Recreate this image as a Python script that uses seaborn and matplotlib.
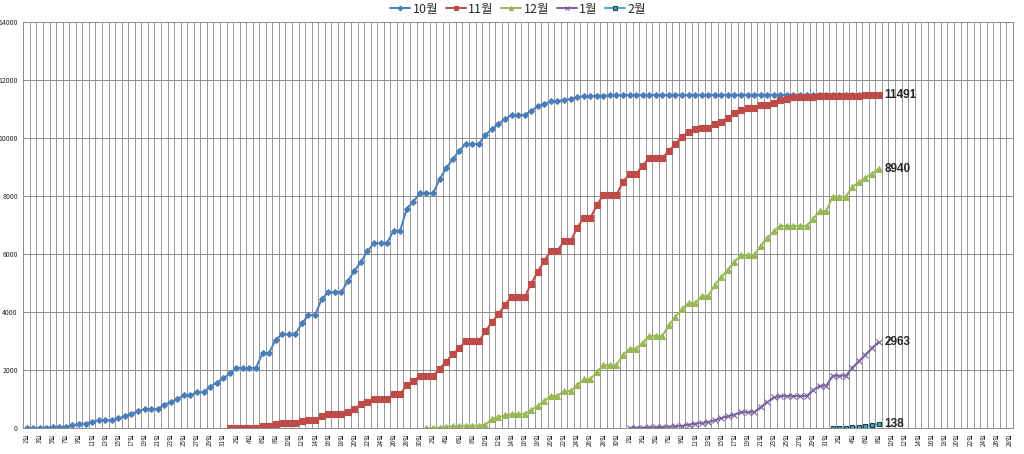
import matplotlib
matplotlib.use("Agg")
import matplotlib.pyplot as plt
import numpy as np
import pandas as pd
import seaborn as sns

# months shown on the category axis (Oct .. Feb)
month_names = ["10월", "11월", "12월", "1월", "2월"]
month_days = [31, 30, 31, 31, 28]

# cumulative counts, one value per day from the 1st of each series' month
oct_vals = [0, 0, 10, 10, 35, 35, 45, 90, 150, 150,
            215, 260, 260, 260, 330, 410, 490, 570, 650, 650,
            650, 800, 900, 995, 1130, 1130, 1235, 1235, 1420, 1565,
            1715, 1880, 2070, 2070, 2070, 2070, 2585, 2585, 3050, 3230,
            3230, 3230, 3605, 3890, 3890, 4435, 4680, 4680, 4680, 5055,
            5420, 5720, 6100, 6375, 6375, 6375, 6810, 6810, 7560, 7810,
            8090, 8090, 8090, 8570, 8960, 9260, 9560, 9800, 9800, 9800,
            10110, 10305, 10490, 10650, 10790, 10790, 10790, 10940, 11090, 11180,
            11260, 11270, 11320, 11340, 11400, 11445, 11445, 11465, 11465, 11470,
            11475, 11475, 11480, 11480, 11480, 11482, 11482, 11484, 11484, 11485,
            11485, 11486, 11486, 11487, 11487, 11487, 11488, 11488, 11488, 11489,
            11489, 11489, 11489, 11490, 11490, 11490, 11490, 11490, 11490, 11490,
            11490, 11490, 11490, 11491, 11491, 11491, 11491, 11491, 11491, 11491, 11491]
nov_vals = [0, 0, 0, 0, 0, 60, 60, 150, 170, 170,
            170, 230, 290, 290, 400, 470, 470, 470, 565, 655,
            815, 895, 990, 990, 990, 1160, 1160, 1480, 1630, 1795,
            1795, 1795, 2045, 2290, 2535, 2755, 2985, 2985, 2985, 3335,
            3645, 3930, 4250, 4525, 4525, 4525, 4975, 5395, 5770, 6120,
            6120, 6440, 6440, 6900, 7245, 7245, 7680, 8045, 8045, 8045,
            8490, 8755, 8755, 9050, 9315, 9315, 9315, 9550, 9800, 10050,
            10200, 10300, 10350, 10350, 10500, 10550, 10700, 10850, 10950, 11050,
            11050, 11150, 11150, 11200, 11300, 11350, 11400, 11420, 11430, 11430,
            11440, 11440, 11440, 11450, 11450, 11460, 11460, 11470, 11480, 11491]
dec_vals = [0, 0, 10, 45, 57, 70, 80, 80, 80, 115,
            310, 380, 435, 480, 480, 480, 620, 770, 940, 1110,
            1110, 1275, 1275, 1480, 1675, 1675, 1940, 2165, 2165, 2165,
            2520, 2740, 2740, 2945, 3175, 3175, 3175, 3540, 3840, 4105,
            4310, 4310, 4550, 4550, 4930, 5205, 5465, 5730, 5960, 5960,
            5960, 6290, 6545, 6785, 6970, 6970, 6970, 6970, 6970, 7200,
            7485, 7485, 7980, 7980, 7980, 8310, 8480, 8630, 8770, 8940]
jan_vals = [0, 10, 12, 20, 23, 34, 46, 57, 70, 115,
            150, 170, 205, 265, 345, 400, 460, 540, 550, 550,
            720, 890, 1055, 1100, 1100, 1100, 1100, 1100, 1300, 1455,
            1455, 1800, 1800, 1800, 2075, 2305, 2530, 2760, 2963]
feb_vals = [0, 5, 10, 30, 45, 60, 100, 138]

series_vals = [oct_vals, nov_vals, dec_vals, jan_vals, feb_vals]
colors = ["#4A7EBB", "#BE4B48", "#98B954", "#7D60A0", "#46AAC5"]
markers = ["D", "s", "^", "x", "s"]
msizes = [3, 4, 3.8, 4, 3.5]

# category labels: every day, shown every second day
day_labels = []
for m, n in zip(month_names, month_days):
    for d in range(1, n + 1):
        day_labels.append(f"{d}일")
n_days = len(day_labels)
starts = np.concatenate([[0], np.cumsum(month_days)[:-1]])

rows = []
for name, s, vals in zip(month_names, starts, series_vals):
    for k, v in enumerate(vals):
        rows.append((name, s + k, v))
df = pd.DataFrame(rows, columns=["series", "day", "count"])

sns.set_style("white")
plt.rcParams["font.family"] = ["Noto Sans CJK KR", "DejaVu Sans"]

fig = plt.figure(figsize=(10.24, 4.54), dpi=100)
ax = fig.add_axes([0.0228, 0.0573, 0.9664, 0.8942])

for name, c, mk, ms in zip(month_names, colors, markers, msizes):
    sub = df[df["series"] == name]
    edge = "#1f3f4a" if name == "2월" else c
    sns.lineplot(data=sub, x="day", y="count", ax=ax, color=c, marker=mk,
                 markersize=ms, markeredgecolor=edge, markeredgewidth=0.8,
                 linewidth=1.4, label=name)

# end-of-series value labels
for name, vals in zip(month_names[1:], series_vals[1:]):
    sub = df[df["series"] == name]
    ax.annotate(str(vals[-1]), (sub["day"].iloc[-1], vals[-1]),
                xytext=(4, 0), textcoords="offset points", va="center",
                fontsize=8.5, fontweight="bold", family=["Liberation Sans", "DejaVu Sans"])

ax.set_xlim(-0.5, n_days - 0.5)
ax.set_ylim(0, 14000)
ax.set_yticks(np.arange(0, 14001, 2000))
ax.set_yticklabels([str(v) for v in range(0, 14001, 2000)], fontsize=5)
ax.set_xticks(np.arange(-0.5, n_days, 1), minor=True)
ax.set_xticks(np.arange(0, n_days, 2))
ax.set_xticklabels(day_labels[::2], rotation=90, fontsize=4.5)
ax.tick_params(axis="x", which="major", length=0, pad=4)
ax.tick_params(axis="x", which="minor", length=3, color="#8c8c8c", width=0.6)
ax.tick_params(axis="y", length=3, color="#8c8c8c", width=0.6, pad=1)
ax.grid(True, axis="y", color="#8c8c8c", linewidth=0.7)
ax.grid(True, axis="x", which="minor", color="#909090", linewidth=0.65)
ax.set_xlabel("")
ax.set_ylabel("")
for sp in ax.spines.values():
    sp.set_color("#8c8c8c")
    sp.set_linewidth(0.7)

ax.legend(loc="lower center", bbox_to_anchor=(0.5, 1.0), ncol=5, frameon=False,
          fontsize=9, handlelength=1.6, handletextpad=0.2, columnspacing=0.6,
          borderaxespad=0.1, markerscale=0.8)

fig.savefig("out.png", dpi=100)
